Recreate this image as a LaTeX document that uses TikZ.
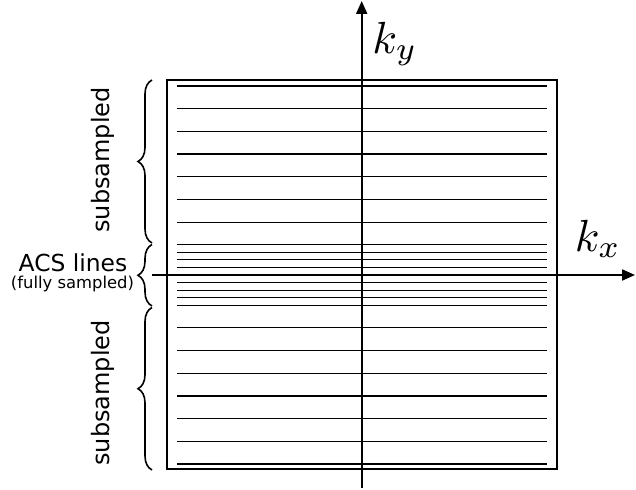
\documentclass[tikz,border=0pt]{standalone}
\usepackage{fontspec}
\newfontfamily\labelfont{DejaVu Sans}
\usetikzlibrary{arrows.meta,decorations.pathreplacing}
\begin{document}
\begin{tikzpicture}[x=0.5pt,y=-0.5pt,
  kline/.style={line width=0.55pt},
  frame/.style={line width=1pt},
  axis/.style={line width=1pt,-{Triangle[length=6.5pt,width=5.5pt]}},
  brc/.style={decorate,decoration={brace,amplitude=7pt},line width=0.8pt},
  lbl/.style={font=\labelfont\fontsize{12}{14}\selectfont,inner sep=0pt},
  acsl/.style={font=\labelfont\fontsize{11.7}{14}\selectfont,inner sep=0pt},
  small/.style={font=\labelfont\fontsize{8.2}{10}\selectfont,inner sep=0pt},
  klbl/.style={scale=2.25,inner sep=0pt},
]
\useasboundingbox (0,0) rectangle (636,490);
% frame
\draw[frame] (167,80.5) rectangle (557,469.5);
% ACS lines
\foreach \k in {-4,...,4}
  \draw[kline] (177,{275+7.56*\k}) -- (547,{275+7.56*\k});
% subsampled lines
\foreach \j in {1,...,7} {
  \draw[kline] (177,{275-(4+3*\j)*7.56}) -- (547,{275-(4+3*\j)*7.56});
  \draw[kline] (177,{275+(4+3*\j)*7.56}) -- (547,{275+(4+3*\j)*7.56});
}
% axes
\coordinate (yb) at (361.7,488);
\coordinate (yt) at (361.7,1);
\coordinate (xl) at (152,275);
\coordinate (xr) at (635,275);
\draw[axis] (yb) -- (yt);
\draw[axis] (xl) -- (xr);
\node[klbl] (ky) at (395,44) {$k_y$};
\node[klbl] (kx) at (598,239) {$k_x$};
% braces
\coordinate (b1a) at (152,243);
\coordinate (b1b) at (152,80);
\coordinate (b2a) at (152,306);
\coordinate (b2b) at (152,244.5);
\coordinate (b3a) at (152,470);
\coordinate (b3b) at (152,307.5);
\draw[brc] (b1a) -- (b1b);
\draw[brc] (b2a) -- (b2b);
\draw[brc] (b3a) -- (b3b);
% labels
\node[lbl,rotate=90] (sub1) at (103,160) {subsampled};
\node[lbl,rotate=90] (sub2) at (103,393) {subsampled};
\node[acsl] (acs) at (73,263) {ACS lines};
\node[small] (full) at (72.5,284) {(fully sampled)};
\end{tikzpicture}
\end{document}
